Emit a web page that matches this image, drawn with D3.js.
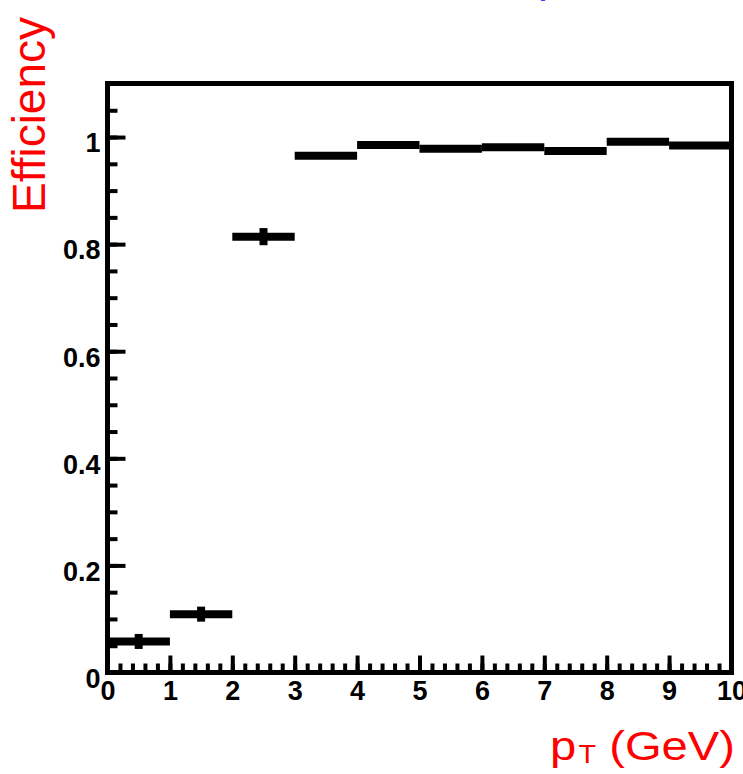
<!DOCTYPE html>
<html>
<head>
<meta charset="utf-8">
<script src="https://cdn.jsdelivr.net/npm/d3@7"></script>
<style>
	body {margin: 0; background: white;}
	svg {display: block;}
</style>
</head>
<body>
<svg id="svg" width="743" height="774"></svg>
<script>
// efficiency per pT bin (GeV)
let binLow = [0, 1, 2, 3, 4, 5, 6, 7, 8, 9];
let binHigh = [1, 2, 3, 4, 5, 6, 7, 8, 9, 10];
let effValues = [0.058, 0.109, 0.814, 0.965, 0.985, 0.978, 0.981, 0.974, 0.991, 0.984];
let effErrors = [0.014, 0.014, 0.016, 0.004, 0.003, 0.003, 0.003, 0.003, 0.003, 0.003];

let xTickValues = [0, 1, 2, 3, 4, 5, 6, 7, 8, 9, 10];
let xTickLabels = ["0", "1", "2", "3", "4", "5", "6", "7", "8", "9", "10"];
let yTickValues = [0, 0.2, 0.4, 0.6, 0.8, 1];
let yTickLabels = ["0", "0.2", "0.4", "0.6", "0.8", "1"];

let svg = d3.select("#svg");

let xScale = d3.scaleLinear().domain([0, 10]).range([107.5, 731.5]);
let yScale = d3.scaleLinear().domain([0, 1.1]).range([672.5, 83.5]);

let tickFont = "'Liberation Sans', Arial, Helvetica, sans-serif";

// minor ticks first, majors on top
let xMinor = svg.append("g")
		.attr("transform", "translate(0," + yScale(0) + ")")
		.call(d3.axisBottom(xScale)
			.tickValues(d3.range(0, 10.001, 0.2))
			.tickSize(-9)
			.tickFormat(""));

let yMinor = svg.append("g")
		.attr("transform", "translate(" + xScale(0) + ",0)")
		.call(d3.axisLeft(yScale)
			.tickValues(d3.range(0, 1.1001, 0.05))
			.tickSize(-10)
			.tickFormat(""));

let xAxis = svg.append("g")
		.classed("xAxis", true)
		.attr("transform", "translate(0," + yScale(0) + ")")
		.call(d3.axisBottom(xScale)
			.tickValues(xTickValues)
			.tickSize(-17)
			.tickPadding(8)
			.tickFormat((d, i) => xTickLabels[i]));

let yAxis = svg.append("g")
		.classed("yAxis", true)
		.attr("transform", "translate(" + xScale(0) + ",0)")
		.call(d3.axisLeft(yScale)
			.tickValues(yTickValues)
			.tickSize(-18)
			.tickPadding(7)
			.tickFormat((d, i) => yTickLabels[i]));

svg.selectAll(".domain").remove();
svg.selectAll(".tick line")
		.attr("stroke", "black")
		.attr("stroke-width", 4);

svg.selectAll(".xAxis text, .yAxis text")
		.attr("font-family", tickFont)
		.attr("font-weight", "bold")
		.attr("font-size", "27px")
		.attr("fill", "black");

svg.selectAll(".yAxis text").attr("dy", "0.55em");

// plot frame
svg.append("rect")
		.attr("x", xScale(0))
		.attr("y", yScale(1.1))
		.attr("width", xScale(10) - xScale(0))
		.attr("height", yScale(0) - yScale(1.1))
		.attr("fill", "none")
		.attr("stroke", "black")
		.attr("stroke-width", 5);

// histogram bins with error bars
let bins = binLow.map((d, i) => ({lo: d, hi: binHigh[i], v: effValues[i], e: effErrors[i]}));

let dataGroup = svg.append("g");

dataGroup.selectAll("line.bin").data(bins).enter()
		.append("line")
		.classed("bin", true)
		.attr("x1", d => xScale(d.lo))
		.attr("x2", d => xScale(d.hi))
		.attr("y1", d => yScale(d.v))
		.attr("y2", d => yScale(d.v))
		.attr("stroke", "black")
		.attr("stroke-width", 8);

dataGroup.selectAll("line.err").data(bins).enter()
		.append("line")
		.classed("err", true)
		.attr("x1", d => xScale((d.lo + d.hi) / 2))
		.attr("x2", d => xScale((d.lo + d.hi) / 2))
		.attr("y1", d => yScale(d.v - d.e))
		.attr("y2", d => yScale(d.v + d.e))
		.attr("stroke", "black")
		.attr("stroke-width", 8);

// axis titles
svg.append("text")
		.attr("transform", "translate(45,213) rotate(-90)")
		.attr("font-family", tickFont)
		.attr("font-size", "46px")
		.attr("fill", "#ff0000")
		.attr("text-anchor", "start")
		.text("Efficiency");

let xTitle = svg.append("text")
		.attr("transform", "translate(550,760) scale(1.15,1)")
		.attr("font-family", tickFont)
		.attr("font-size", "41px")
		.attr("fill", "#ff0000");
xTitle.append("tspan").text("p");
xTitle.append("tspan").attr("font-size", "25px").attr("dx", 2).attr("dy", 3).text("T");
xTitle.append("tspan").attr("dy", -3).text(" (GeV)");

// title cut off at the top of the picture
svg.append("text")
		.attr("x", 538)
		.attr("y", -8)
		.attr("font-family", tickFont)
		.attr("font-size", "44px")
		.attr("fill", "#3b3bff")
		.text("p");
</script>
</body>
</html>
